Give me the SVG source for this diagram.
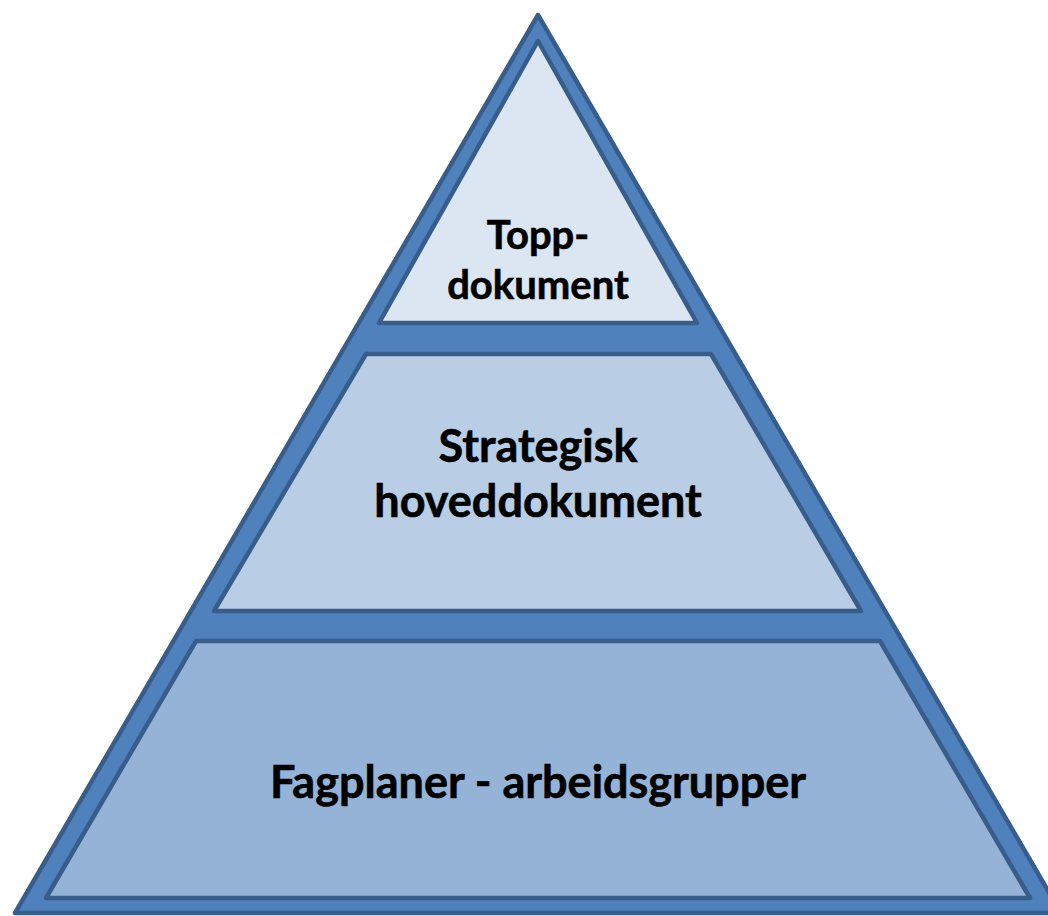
<svg xmlns="http://www.w3.org/2000/svg" width="1048" height="916" viewBox="0 0 1048 916">
<style>
.sh{stroke:#385d8a;stroke-width:4.5;stroke-linejoin:round}
.t{font-family:Lato,"Liberation Sans",sans-serif;font-weight:bold;fill:#000;stroke:#000;stroke-width:0.6;text-anchor:middle}
</style>
<rect width="1048" height="916" fill="#fff"/>
<g id="outer"><polygon class="sh" fill="#4f81bd" points="538,15 15,913 1061,913"/></g>
<g id="top"><polygon class="sh" fill="#dce6f2" points="538,41 379,323 697,323"/>
<text class="t" x="538" y="249" font-size="40">Topp-</text>
<text class="t" x="538" y="299" font-size="40">dokument</text></g>
<g id="middle"><polygon class="sh" fill="#b9cde5" points="366,354 711,354 861,611 214,611"/>
<text class="t" x="538" y="462" font-size="45">Strategisk</text>
<text class="t" x="538" y="517" font-size="45">hoveddokument</text></g>
<g id="bottom"><polygon class="sh" fill="#95b3d7" points="196,641 880,641 1030,898 46,898"/>
<text class="t" x="538" y="798" font-size="45">Fagplaner - arbeidsgrupper</text></g>
<g id="connectors"></g>
</svg>
